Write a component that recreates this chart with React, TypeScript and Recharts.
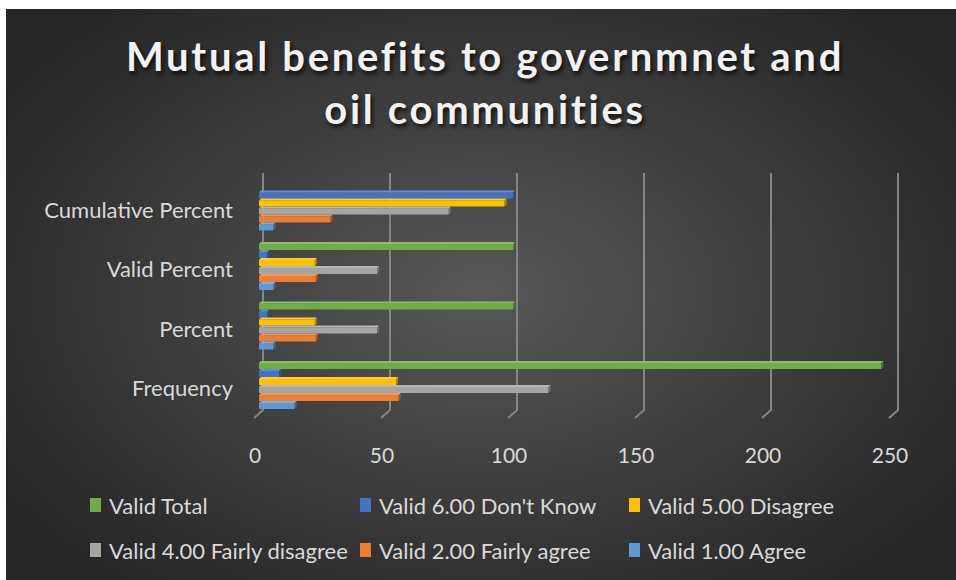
import React from 'react';
import { BarChart, Bar, XAxis, YAxis, CartesianGrid } from 'recharts';

const categories = ['Cumulative Percent', 'Valid Percent', 'Percent', 'Frequency'];
const validTotal = [null, 100, 100, 245];
const dontKnow = [100, 3.3, 3.3, 8];
const disagree = [96.7, 22.0, 22.0, 54];
const fairlyDisagree = [74.7, 46.5, 46.5, 114];
const fairlyAgree = [28.2, 22.4, 22.4, 55];
const agree = [5.7, 5.7, 5.7, 14];
const xTicks = [0, 50, 100, 150, 200, 250];

const series = [
  { key: 'total', name: 'Valid Total', color: '#70ad47', values: validTotal },
  { key: 'dontKnow', name: "Valid 6.00 Don't Know", color: '#4472c4', values: dontKnow },
  { key: 'disagree', name: 'Valid 5.00 Disagree', color: '#ffc000', values: disagree },
  { key: 'fairlyDisagree', name: 'Valid 4.00 Fairly disagree', color: '#a5a5a5', values: fairlyDisagree },
  { key: 'fairlyAgree', name: 'Valid 2.00 Fairly agree', color: '#ed7d31', values: fairlyAgree },
  { key: 'agree', name: 'Valid 1.00 Agree', color: '#5b9bd5', values: agree },
];

const data = categories.map((name, i) => {
  const row: Record<string, any> = { name };
  series.forEach((s) => { row[s.key] = s.values[i]; });
  return row;
});

const FONT = 'Lato, "Open Sans", sans-serif';
const TEXT = '#d9d9d9';

const shade = (hex: string, f: number) => {
  const n = parseInt(hex.slice(1), 16);
  const c = [(n >> 16) & 255, (n >> 8) & 255, n & 255].map((v) =>
    Math.round(f < 0 ? v * (1 + f) : v + (255 - v) * f)
  );
  return `rgb(${c[0]},${c[1]},${c[2]})`;
};

// flat bar with a thin top face and end face, like Excel's 3D bars
const Bar3D = (props: any) => {
  const { x, y, width, height, fill } = props;
  if (!width || width <= 0) return null;
  const d = 2;
  return (
    <g>
      <rect x={x} y={y + d} width={width} height={height - d} fill={fill} />
      <polygon
        points={`${x},${y + d} ${x + d},${y} ${x + width + d},${y} ${x + width},${y + d}`}
        fill={shade(fill, 0.2)}
      />
      <polygon
        points={`${x + width},${y + d} ${x + width + d},${y} ${x + width + d},${y + height - d} ${x + width},${y + height}`}
        fill={shade(fill, -0.3)}
      />
    </g>
  );
};

const gridLine = (p: any) => {
  const { x1, y1, y2, key } = p;
  const top = y1 - 4;
  const bot = y2 - 5;
  return (
    <polyline
      key={key}
      points={`${x1 + 4},${top} ${x1 + 4},${bot} ${x1 - 5},${bot + 8}`}
      fill="none"
      stroke="#858585"
      strokeWidth={2}
    />
  );
};

const XTick = (p: any) => (
  <text x={p.x - 4} y={p.y + 40} textAnchor="middle" fill={TEXT} fontSize={21} fontFamily={FONT}>
    {p.payload.value}
  </text>
);

const YTick = (p: any) => (
  <text x={p.x - 18} y={p.y + 11} textAnchor="end" fill={TEXT} fontSize={22} fontFamily={FONT}>
    {p.payload.value}
  </text>
);

export default function App() {
  return (
    <div
      style={{
        position: 'absolute',
        left: 6,
        top: 9,
        width: 950,
        height: 571,
        overflow: 'hidden',
        background: 'radial-gradient(ellipse 60% 65% at 50% 50%, #585858 0%, #3c3c3c 55%, #262626 100%)',
        fontFamily: FONT,
      }}
    >
      <div
        style={{
          position: 'absolute',
          left: 0,
          top: 21,
          width: 958,
          textAlign: 'center',
          color: '#f2f2f2',
          fontSize: 40,
          fontWeight: 700,
          letterSpacing: 2.7,
          lineHeight: '53px',
          textShadow: '2px 3px 4px rgba(0,0,0,0.75)',
        }}
      >
        Mutual benefits to governmnet and
        <br />
        oil communities
      </div>
      <BarChart
        width={950}
        height={571}
        data={data}
        layout="vertical"
        margin={{ top: 168, right: 62, bottom: 125, left: 0 }}
        barCategoryGap={5.5}
        barGap={0}
        style={{ position: 'absolute', left: 0, top: 0 }}
      >
        <CartesianGrid horizontal={false} vertical={gridLine} />
        <XAxis
          type="number"
          domain={[0, 250]}
          ticks={xTicks}
          axisLine={false}
          tickLine={false}
          tick={<XTick />}
          height={40}
          interval={0}
        />
        <YAxis
          type="category"
          dataKey="name"
          width={253}
          axisLine={false}
          tickLine={false}
          tick={<YTick />}
          interval={0}
        />
        {series.map((s) => (
          <Bar
            key={s.key}
            dataKey={s.key}
            name={s.name}
            fill={s.color}
            shape={<Bar3D />}
            isAnimationActive={false}
          />
        ))}
      </BarChart>
      {series.map((s, i) => (
        <div
          key={s.key}
          style={{
            position: 'absolute',
            left: [84, 354, 623][i % 3],
            top: [482, 527][Math.floor(i / 3)],
            height: 28,
            display: 'flex',
            alignItems: 'center',
            color: TEXT,
            fontSize: 22,
            whiteSpace: 'nowrap',
          }}
        >
          <span style={{ display: 'inline-block', width: 11, height: 14, background: s.color, marginRight: 8 }} />
          {s.name}
        </div>
      ))}
    </div>
  );
}
